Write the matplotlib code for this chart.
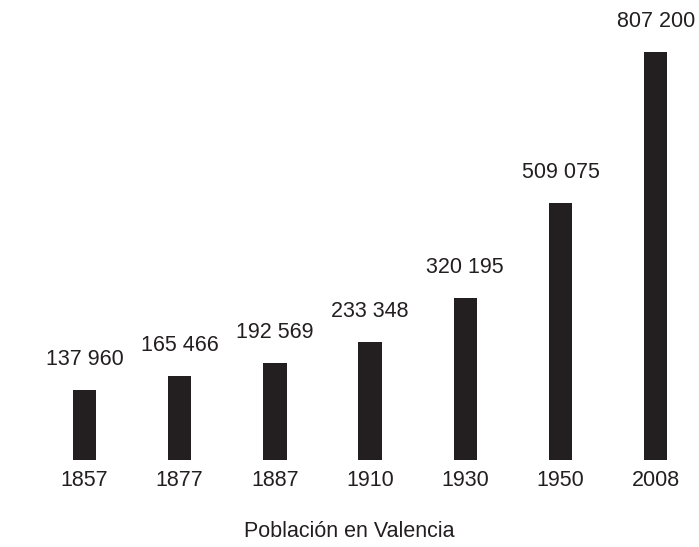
"""Bar chart: population of Valencia by census year."""

import matplotlib
matplotlib.use("Agg")
import matplotlib.pyplot as plt

years = ["1857", "1877", "1887", "1910", "1930", "1950", "2008"]
population = [137960, 165466, 192569, 233348, 320195, 509075, 807200]

INK = "#231f20"
FONT = "Liberation Sans"
FS = 15.5

plt.rcParams["font.family"] = [FONT, "DejaVu Sans"]

fig = plt.figure(figsize=(6.99, 5.47), dpi=100)
W, H = 699, 547

# axes placed in pixel terms: baseline at y=460, tallest bar reaches y=52
ax = fig.add_axes([30 / W, 1 - 460 / H, 660 / W, 408 / H])
x = list(range(len(years)))
ax.bar(x, population, width=0.245, color=INK)

step = 95.2
ax.set_xlim((30 - 84.5) / step, (690 - 84.5) / step)
ax.set_ylim(0, max(population))

for xi, val in zip(x, population):
    label = f"{val:,}".replace(",", " ")
    ax.annotate(label, (xi, val), xytext=(0, 18), textcoords="offset points",
                ha="center", va="baseline", fontsize=FS, color=INK,
                annotation_clip=False)

ax.set_xticks(x)
ax.set_xticklabels(years, fontsize=FS, color=INK)
ax.tick_params(axis="x", length=0, pad=7.5)
ax.set_yticks([])
for side in ax.spines.values():
    side.set_visible(False)

fig.text(0.5, (H - 537.3) / H, "Población en Valencia", ha="center",
         va="baseline", fontsize=FS, color=INK)

fig.savefig("out.png", dpi=100)
plt.close(fig)
